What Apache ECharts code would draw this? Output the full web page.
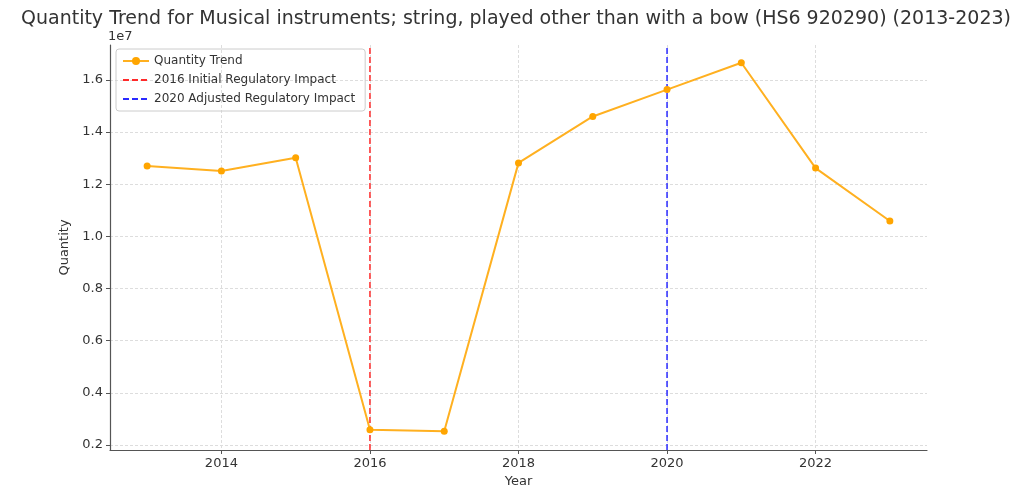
<!DOCTYPE html>
<html lang="en">
<head>
    <meta charset="UTF-8">
    <title>Quantity Trend</title>
    <script src="https://cdn.jsdelivr.net/npm/echarts@6/dist/echarts.min.js"></script>
    <style>
        html, body { margin: 0; padding: 0; background: #fff; }
        #main { width: 1032px; height: 489px; }
    </style>
</head>
<body>
    <div id="main"></div>
    <script>
        var years = [2013, 2014, 2015, 2016, 2017, 2018, 2019, 2020, 2021, 2022, 2023];
        var quantity = [12700000, 12510000, 13020000, 2590000, 2530000, 12820000, 14600000, 15630000, 16660000, 12620000, 10590000];
        var xTicks = [2014, 2016, 2018, 2020, 2022];
        var yTicks = [2000000, 4000000, 6000000, 8000000, 10000000, 12000000, 14000000, 16000000];
        var yMin = 1810000, yMax = 17340000;

        var myChart = echarts.init(document.getElementById('main'));
        var font = 'DejaVu Sans';

        var option = {
            animation: false,
            textStyle: { fontFamily: font },
            title: {
                text: 'Quantity Trend for Musical instruments; string, played other than with a bow (HS6 920290) (2013-2023)',
                left: 'center',
                top: 5,
                textStyle: { fontSize: 19, fontWeight: 'normal', color: '#333', fontFamily: font }
            },
            legend: {
                orient: 'vertical',
                left: 116,
                top: 49,
                itemWidth: 26,
                itemHeight: 10,
                itemGap: 7,
                padding: [6, 10, 6, 6],
                borderColor: '#ccc',
                borderWidth: 1,
                borderRadius: 3,
                textStyle: { fontSize: 12, color: '#333' },
                data: [
                    'Quantity Trend',
                    { name: '2016 Initial Regulatory Impact', itemStyle: { opacity: 0 } },
                    { name: '2020 Adjusted Regulatory Impact', itemStyle: { opacity: 0 } }
                ]
            },
            grid: { left: 110, right: 105, top: 45, bottom: 39, outerBoundsMode: 'none' },
            xAxis: {
                type: 'value',
                min: 2012.5,
                max: 2023.5,
                name: 'Year',
                nameLocation: 'middle',
                nameGap: 25,
                nameTextStyle: { fontSize: 13, color: '#333' },
                axisLine: { lineStyle: { color: '#555', width: 1.2 } },
                axisTick: { show: true, length: 4, lineStyle: { color: '#555' }, customValues: xTicks },
                axisLabel: {
                    fontSize: 13, color: '#333', margin: 7, customValues: xTicks,
                    formatter: function (v) { return String(v); }
                },
                splitLine: { show: true, lineStyle: { color: '#ddd', type: [3, 2] } }
            },
            yAxis: {
                type: 'value',
                min: yMin,
                max: yMax,
                name: 'Quantity',
                nameLocation: 'middle',
                nameGap: 35,
                nameTextStyle: { fontSize: 13, color: '#333' },
                axisLine: { show: true, lineStyle: { color: '#555', width: 1.2 } },
                axisTick: { show: true, length: 4, lineStyle: { color: '#555' }, customValues: yTicks },
                axisLabel: {
                    fontSize: 13, color: '#333', margin: 7, customValues: yTicks,
                    formatter: function (v) { return (v / 1e7).toFixed(1); }
                },
                splitLine: { show: true, lineStyle: { color: '#ddd', type: [3, 2] } }
            },
            graphic: [{
                type: 'text',
                left: 108,
                top: 30,
                style: { text: '1e7', fontSize: 13, fill: '#333', fontFamily: font }
            }],
            series: [{
                name: 'Quantity Trend',
                type: 'line',
                data: years.map(function (y, i) { return [y, quantity[i]]; }),
                symbol: 'circle',
                symbolSize: 7,
                itemStyle: { color: '#FFA500' },
                lineStyle: { color: '#FFB020', width: 2 },
                z: 3
            }, {
                name: '2016 Initial Regulatory Impact',
                type: 'line',
                data: [[2016, yMin], [2016, yMax]],
                symbol: 'none',
                itemStyle: { color: '#ff2a2a' },
                lineStyle: { color: '#ff2a2a', width: 1.5, type: [6, 3] },
                z: 2
            }, {
                name: '2020 Adjusted Regulatory Impact',
                type: 'line',
                data: [[2020, yMin], [2020, yMax]],
                symbol: 'none',
                itemStyle: { color: '#2a2aff' },
                lineStyle: { color: '#2a2aff', width: 1.5, type: [6, 3] },
                z: 2
            }]
        };
        myChart.setOption(option);
    </script>
</body>
</html>
